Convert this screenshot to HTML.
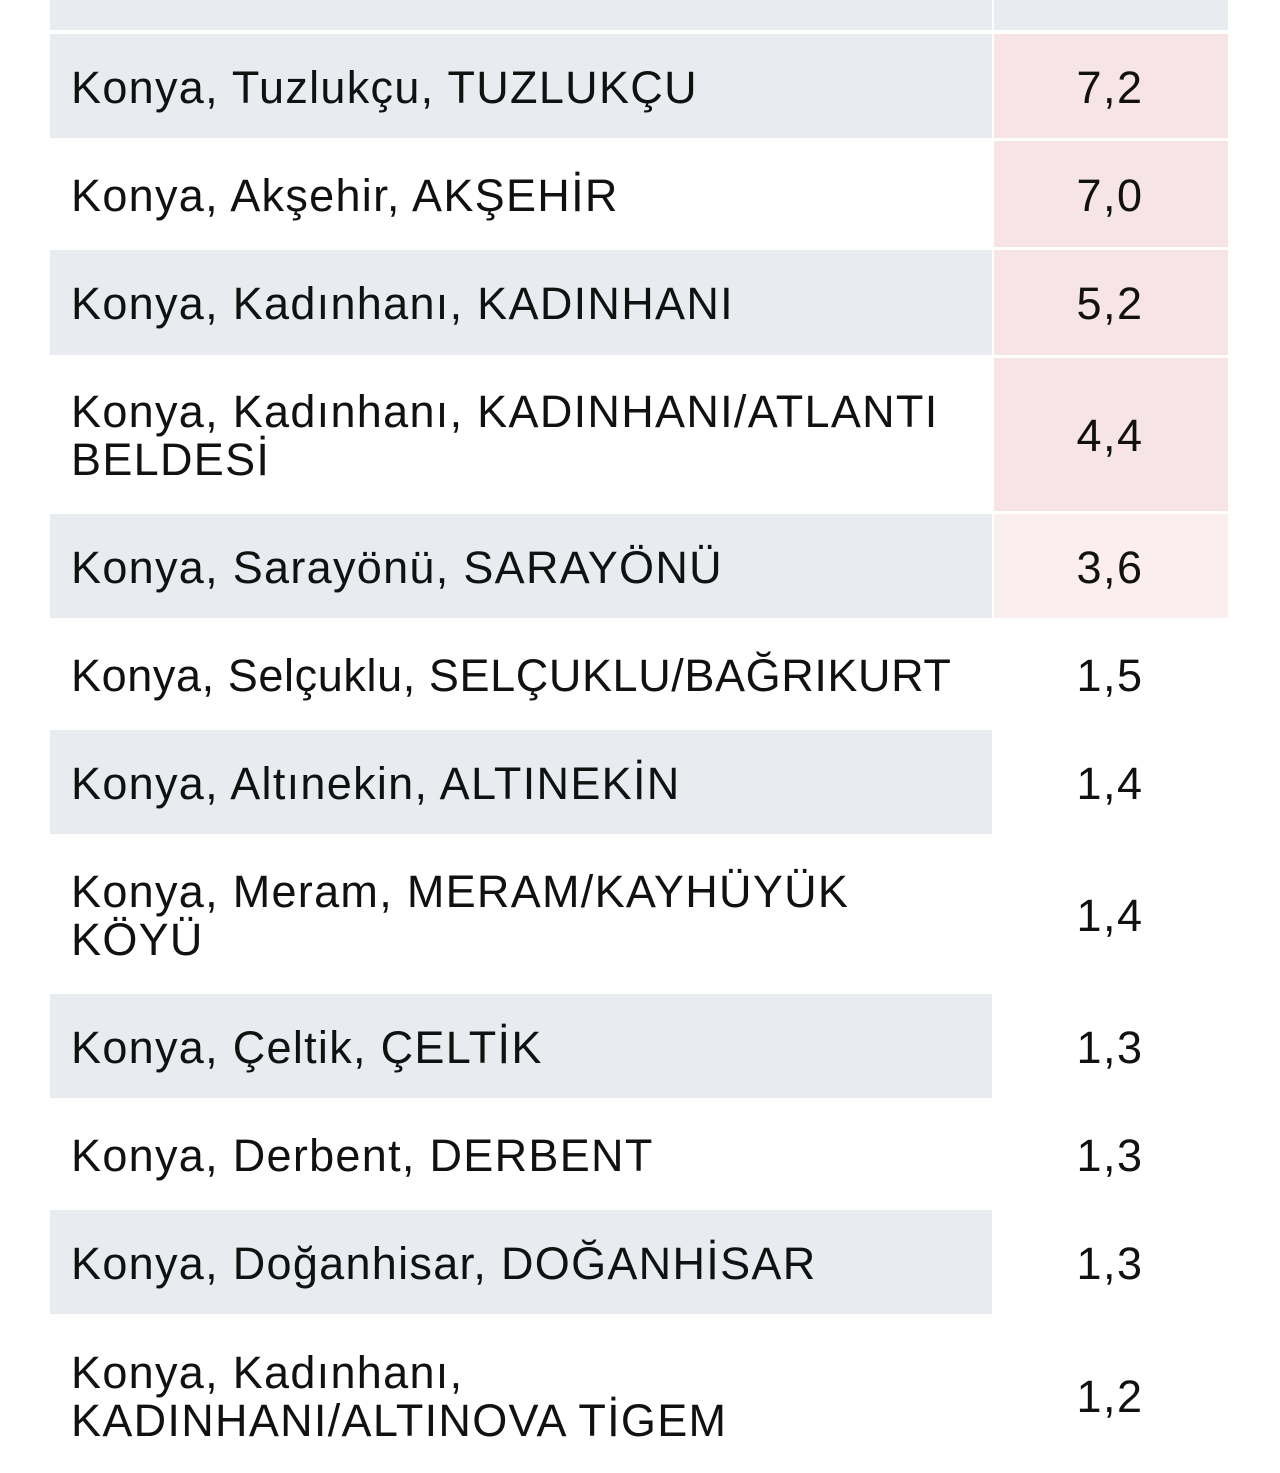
<!DOCTYPE html>
<html><head><meta charset="utf-8"><style>
body{margin:0;width:1280px;height:1455px;background:#fff;overflow:hidden;position:relative;font-family:"Liberation Sans","DejaVu Sans",sans-serif;color:#111}
.c{position:absolute;display:flex;align-items:center;box-sizing:border-box;padding-top:3px}
.l{left:50px;width:942px;padding-left:21px;font-size:45px;line-height:48px;letter-spacing:1.3px}
.v{left:994px;width:234px;justify-content:center;font-size:45px;letter-spacing:1.5px;padding-right:2px}
.g{background:#e8ecf1}
.p{background:#f6e4e6}
.p2{background:#fbeeee}
</style></head><body>
<div class="c l g" style="top:0;height:30px"></div><div class="c v g" style="top:0;height:30px"></div>

<div class="c l g" style="top:34px;height:104px">Konya, Tuzlukçu, TUZLUKÇU</div><div class="c v p" style="top:34px;height:104px">7,2</div>
<div class="c l" style="top:141px;height:106px">Konya, Akşehir, AKŞEHİR</div><div class="c v p" style="top:141px;height:106px">7,0</div>
<div class="c l g" style="top:250px;height:105px">Konya, Kadınhanı, KADINHANI</div><div class="c v p" style="top:250px;height:105px">5,2</div>
<div class="c l" style="top:358px;height:153px">Konya, Kadınhanı, KADINHANI/ATLANTI<br>BELDESİ</div><div class="c v p" style="top:358px;height:153px">4,4</div>
<div class="c l g" style="top:514px;height:104px">Konya, Sarayönü, SARAYÖNÜ</div><div class="c v p2" style="top:514px;height:104px">3,6</div>
<div class="c l" style="top:621px;height:106px;letter-spacing:0.6px">Konya, Selçuklu, SELÇUKLU/BAĞRIKURT</div><div class="c v" style="top:621px;height:106px">1,5</div>
<div class="c l g" style="top:730px;height:104px">Konya, Altınekin, ALTINEKİN</div><div class="c v" style="top:730px;height:104px">1,4</div>
<div class="c l" style="top:837px;height:154px">Konya, Meram, MERAM/KAYHÜYÜK<br>KÖYÜ</div><div class="c v" style="top:837px;height:154px">1,4</div>
<div class="c l g" style="top:994px;height:104px">Konya, Çeltik, ÇELTİK</div><div class="c v" style="top:994px;height:104px">1,3</div>
<div class="c l" style="top:1101px;height:106px">Konya, Derbent, DERBENT</div><div class="c v" style="top:1101px;height:106px">1,3</div>
<div class="c l g" style="top:1210px;height:104px">Konya, Doğanhisar, DOĞANHİSAR</div><div class="c v" style="top:1210px;height:104px">1,3</div>
<div class="c l" style="top:1317px;height:156px">Konya, Kadınhanı,<br>KADINHANI/ALTINOVA TİGEM</div><div class="c v" style="top:1317px;height:156px">1,2</div>
</body></html>
